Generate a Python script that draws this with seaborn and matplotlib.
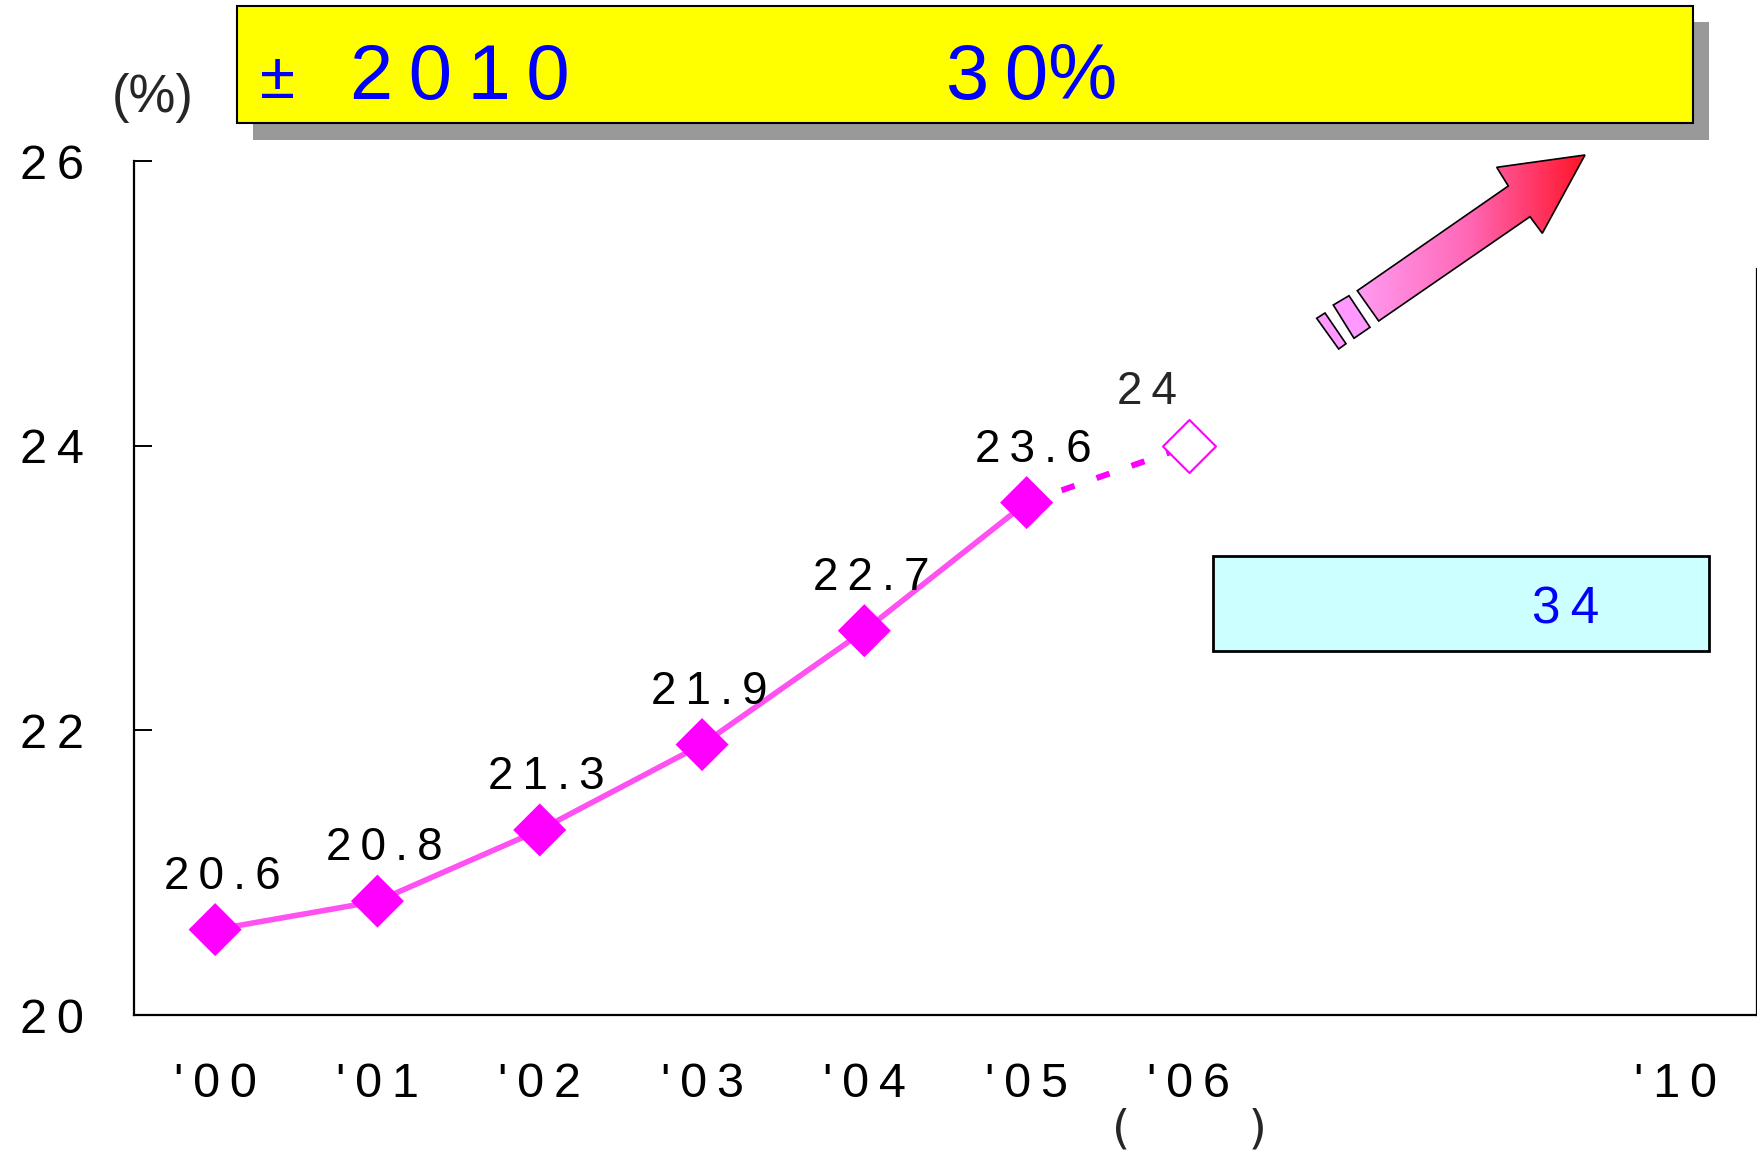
import matplotlib
matplotlib.use('Agg')
import matplotlib.pyplot as plt
import seaborn as sns
import pandas as pd
import numpy as np
from matplotlib.patches import Polygon, Rectangle
from matplotlib.colors import LinearSegmentedColormap

# data
years = ["'00", "'01", "'02", "'03", "'04", "'05", "'06", "'10"]
actual = [20.6, 20.8, 21.3, 21.9, 22.7, 23.6]
forecast_06 = 24.0
target_box_text = ['±', '2010', '30%']
side_box_text = '34'
y_ticks = [20, 22, 24, 26]

sns.set_theme(style='white')
plt.rcParams['font.family'] = ['Liberation Sans', 'DejaVu Sans']


def spaced(s):
    # the original font is letter-spaced
    return '\u2009'.join(s)


# '06 and '10 are not evenly spaced: two empty slots between them
xpos = list(range(len(years) - 1)) + [len(years) + 1]
pos = dict(zip(years, xpos))

df = pd.DataFrame({'x': [pos[y] for y in years[:len(actual)]], 'rate': actual})
fc = pd.DataFrame({'x': [pos[years[5]], pos[years[6]]], 'rate': [actual[-1], forecast_06]})

fig = plt.figure(figsize=(17.58, 11.52), dpi=100)
ax = fig.add_axes([134 / 1758, 1 - 1015 / 1152, 1623 / 1758, 854 / 1152])

sns.lineplot(data=fc, x='x', y='rate', ax=ax, color='#FF00FF', lw=4.3,
             linestyle=(0, (2.3, 3.9)), zorder=2)
sns.lineplot(data=df, x='x', y='rate', ax=ax, color='#FF50F2', lw=4.0, zorder=3)
sns.scatterplot(data=df, x='x', y='rate', ax=ax, marker='D', s=27 ** 2,
                color='#FF00FF', edgecolor='none', zorder=4)
ax.scatter([pos[years[6]]], [forecast_06], marker='D', s=27 ** 2,
           facecolor='white', edgecolor='#FF00FF', linewidth=1.5, zorder=4)

for x, v in zip(df['x'], df['rate']):
    ax.annotate(spaced(f'{v:g}'), (x, v), xytext=(5, 38), textcoords='offset points',
                ha='center', va='center', fontsize=33, color='black')
ax.annotate(spaced(f'{forecast_06:g}'), (pos[years[6]], forecast_06), xytext=(-30, 39),
            textcoords='offset points', ha='center', va='center', fontsize=33)

ax.set_xlim(-0.5, len(years) + 1.5)
ax.set_ylim(y_ticks[0], y_ticks[-1])
ax.set_xticks(xpos)
ax.set_xticklabels([spaced(y) for y in years])
ax.set_yticks(y_ticks)
ax.set_yticklabels([spaced(str(t)) for t in y_ticks])
ax.set_xlabel('')
ax.set_ylabel('')
ax.tick_params(axis='y', direction='in', length=13, width=1.4, pad=36,
               labelsize=35, left=True, right=False, colors='black')
ax.tick_params(axis='x', length=0, pad=34, labelsize=35, colors='black')
for s in ['left', 'bottom', 'right']:
    ax.spines[s].set_color('black')
    ax.spines[s].set_linewidth(1.6)
ax.spines['top'].set_visible(False)
ax.spines['right'].set_bounds(20, 25.24)
ax.set_facecolor('none')
ax.text(pos[years[6]], -0.135, '(\u2003\u2003\u2002)', transform=ax.get_xaxis_transform(),
        ha='center', va='center', fontsize=34, family=['DejaVu Sans'])
fig.text(153 / 1758, 1 - 98 / 1152, '(%)', ha='center', va='center', fontsize=38)

# decorations in pixel coordinates
ov = fig.add_axes([0, 0, 1, 1], zorder=5)
ov.set_xlim(0, 1758)
ov.set_ylim(1152, 0)
ov.axis('off')
ov.patch.set_alpha(0)

ov.add_patch(Rectangle((253, 22), 1456, 118, facecolor='#999999', edgecolor='none'))
ov.add_patch(Rectangle((237, 6), 1456, 117, facecolor='#FFFF00', edgecolor='black', lw=1.5))
ov.text(260, 98, target_box_text[0], color='#0000FF', fontsize=46, ha='left', va='baseline')
ov.text(350, 99, spaced(target_box_text[1]), color='#0000FF', fontsize=56, ha='left', va='baseline')
t3 = target_box_text[2]
ov.text(946, 99, spaced(t3[:2]) + t3[2:], color='#0000FF', fontsize=56, ha='left', va='baseline')

ov.add_patch(Rectangle((1213, 556), 496, 95, facecolor='#CCFFFF', edgecolor='black', lw=2))
ov.text(1566, 610, spaced(side_box_text), color='#0000FF', fontsize=37, ha='center', va='center')

arrow_pts = [(1357.3, 290.7), (1508.3, 186), (1496.7, 167.3), (1585, 155),
             (1542.3, 233.3), (1530, 216.7), (1378.7, 321)]
arrow = Polygon(arrow_pts, closed=True, facecolor='none', edgecolor='black', lw=1.2, zorder=3)
ov.add_patch(arrow)
cmap = LinearSegmentedColormap.from_list('arr', ['#FF9CF2', '#FF66B4', '#FF1428'])
grad = np.linspace(0, 1, 256).reshape(1, -1)
im = ov.imshow(grad, cmap=cmap, aspect='auto', extent=(1357, 1585, 321, 155), zorder=2)
im.set_clip_path(arrow)
ov.set_xlim(0, 1758)
ov.set_ylim(1152, 0)
for pts in [[(1333.3, 305), (1349, 295.7), (1370, 327.3), (1354, 338.3)],
            [(1316.7, 318.3), (1325, 313), (1346, 343.7), (1338.7, 349)]]:
    ov.add_patch(Polygon(pts, closed=True, facecolor='#FF99FF', edgecolor='black', lw=1.2))

fig.savefig('out.png', dpi=100)
